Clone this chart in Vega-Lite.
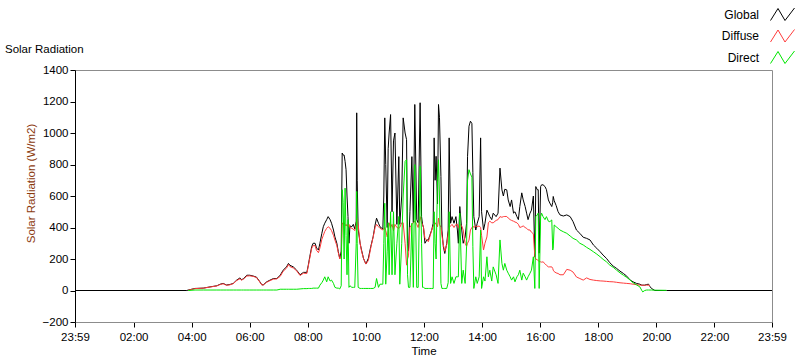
{
  "$schema": "https://vega.github.io/schema/vega-lite/v6.json",
  "width": 697,
  "height": 252,
  "autosize": {"type": "none"},
  "padding": {"left": 75, "top": 70, "right": 28, "bottom": 39},
  "background": "white",
  "config": {
    "font": "Liberation Sans",
    "view": {"stroke": "#8c8c8c"},
    "axis": {"labelFont": "Liberation Sans", "labelFontSize": 11.5, "labelColor": "#000", "titleFont": "Liberation Sans", "titleFontSize": 11.5, "titleFontWeight": "normal", "titleColor": "#000", "grid": false, "tickColor": "#000"}
  },
  "title": {"text": "Solar Radiation", "anchor": "start", "frame": "group", "dx": -70, "dy": 62, "offset": 7, "fontSize": 11.5, "fontWeight": "normal", "font": "Liberation Sans", "color": "#000"},
  "data": {
    "format": {"parse": {"t": "date:'%H:%M'"}},
    "values": [
      {"t":"00:00","Global":0},
      {"t":"03:50","Global":0},
      {"t":"03:53","Global":3,"Diffuse":2,"Direct":0},
      {"t":"04:07","Global":13,"Diffuse":12,"Direct":3},
      {"t":"04:24","Global":15,"Diffuse":15,"Direct":3},
      {"t":"04:38","Global":23,"Diffuse":22,"Direct":3},
      {"t":"04:52","Global":30,"Diffuse":29,"Direct":3},
      {"t":"04:59","Global":40,"Diffuse":38,"Direct":3},
      {"t":"05:05","Global":45,"Diffuse":43,"Direct":3},
      {"t":"05:12","Global":35,"Diffuse":33,"Direct":3},
      {"t":"05:19","Global":38,"Diffuse":36,"Direct":3},
      {"t":"05:26","Global":45,"Diffuse":44,"Direct":3},
      {"t":"05:33","Global":66,"Diffuse":63,"Direct":3},
      {"t":"05:40","Global":80,"Diffuse":75,"Direct":3},
      {"t":"05:43","Global":68,"Diffuse":66,"Direct":3},
      {"t":"05:47","Global":75,"Diffuse":72,"Direct":3},
      {"t":"05:54","Global":97,"Diffuse":92,"Direct":3},
      {"t":"06:00","Global":97,"Diffuse":93,"Direct":3},
      {"t":"06:07","Global":92,"Diffuse":90,"Direct":3},
      {"t":"06:14","Global":85,"Diffuse":82,"Direct":3},
      {"t":"06:21","Global":55,"Diffuse":53,"Direct":3},
      {"t":"06:25","Global":36,"Diffuse":35,"Direct":3},
      {"t":"06:28","Global":36,"Diffuse":35,"Direct":3},
      {"t":"06:35","Global":55,"Diffuse":52,"Direct":3},
      {"t":"06:42","Global":66,"Diffuse":63,"Direct":3},
      {"t":"06:49","Global":76,"Diffuse":72,"Direct":3},
      {"t":"06:56","Global":76,"Diffuse":74,"Direct":3},
      {"t":"07:03","Global":97,"Diffuse":90,"Direct":8},
      {"t":"07:09","Global":129,"Diffuse":122,"Direct":8},
      {"t":"07:16","Global":150,"Diffuse":142,"Direct":8},
      {"t":"07:20","Global":172,"Diffuse":165,"Direct":8},
      {"t":"07:23","Global":160,"Diffuse":152,"Direct":8},
      {"t":"07:30","Global":150,"Diffuse":143,"Direct":8},
      {"t":"07:37","Global":129,"Diffuse":125,"Direct":8},
      {"t":"07:44","Global":100,"Diffuse":95,"Direct":10},
      {"t":"07:51","Global":115,"Diffuse":110,"Direct":12},
      {"t":"07:58","Global":115,"Diffuse":108,"Direct":12},
      {"t":"08:01","Global":161,"Diffuse":155,"Direct":13},
      {"t":"08:04","Global":214,"Diffuse":205,"Direct":13},
      {"t":"08:08","Global":278,"Diffuse":268,"Direct":13},
      {"t":"08:11","Global":300,"Diffuse":285,"Direct":15},
      {"t":"08:15","Global":300,"Diffuse":285,"Direct":15},
      {"t":"08:18","Global":270,"Diffuse":255,"Direct":15},
      {"t":"08:22","Global":257,"Diffuse":240,"Direct":15},
      {"t":"08:25","Global":300,"Diffuse":270,"Direct":34},
      {"t":"08:29","Global":363,"Diffuse":325,"Direct":50},
      {"t":"08:32","Global":405,"Diffuse":350,"Direct":66},
      {"t":"08:35","Global":427,"Diffuse":375,"Direct":87},
      {"t":"08:39","Global":450,"Diffuse":395,"Direct":55},
      {"t":"08:42","Global":469,"Diffuse":405,"Direct":87},
      {"t":"08:46","Global":450,"Diffuse":395,"Direct":60},
      {"t":"08:49","Global":427,"Diffuse":380,"Direct":66},
      {"t":"08:53","Global":384,"Diffuse":350,"Direct":45},
      {"t":"08:56","Global":340,"Diffuse":320,"Direct":20},
      {"t":"09:00","Global":300,"Diffuse":285,"Direct":15},
      {"t":"09:03","Global":246,"Diffuse":240,"Direct":15},
      {"t":"09:06","Global":204,"Diffuse":200,"Direct":10},
      {"t":"09:09","Global":250,"Diffuse":215,"Direct":30},
      {"t":"09:11","Global":873,"Diffuse":430,"Direct":640},
      {"t":"09:13","Global":860,"Diffuse":420,"Direct":560},
      {"t":"09:15","Global":860,"Diffuse":430,"Direct":200},
      {"t":"09:17","Global":820,"Diffuse":420,"Direct":650},
      {"t":"09:19","Global":767,"Diffuse":410,"Direct":350},
      {"t":"09:21","Global":600,"Diffuse":420,"Direct":100},
      {"t":"09:23","Global":470,"Diffuse":405,"Direct":450},
      {"t":"09:25","Global":300,"Diffuse":420,"Direct":20},
      {"t":"09:27","Global":410,"Diffuse":400,"Direct":30},
      {"t":"09:31","Global":405,"Diffuse":395,"Direct":20},
      {"t":"09:34","Global":420,"Diffuse":390,"Direct":20},
      {"t":"09:37","Global":390,"Diffuse":380,"Direct":20},
      {"t":"09:40","Global":440,"Diffuse":420,"Direct":300},
      {"t":"09:41","Global":1128,"Diffuse":459,"Direct":629},
      {"t":"09:42","Global":700,"Diffuse":440,"Direct":300},
      {"t":"09:44","Global":390,"Diffuse":420,"Direct":20},
      {"t":"09:48","Global":300,"Diffuse":300,"Direct":13},
      {"t":"09:51","Global":257,"Diffuse":250,"Direct":13},
      {"t":"09:55","Global":204,"Diffuse":204,"Direct":13},
      {"t":"10:00","Global":168,"Diffuse":168,"Direct":13},
      {"t":"10:05","Global":204,"Diffuse":190,"Direct":13},
      {"t":"10:10","Global":278,"Diffuse":270,"Direct":13},
      {"t":"10:15","Global":342,"Diffuse":340,"Direct":13},
      {"t":"10:19","Global":416,"Diffuse":400,"Direct":20},
      {"t":"10:22","Global":459,"Diffuse":420,"Direct":76},
      {"t":"10:26","Global":427,"Diffuse":405,"Direct":20},
      {"t":"10:29","Global":405,"Diffuse":395,"Direct":40},
      {"t":"10:35","Global":390,"Diffuse":385,"Direct":40},
      {"t":"10:37","Global":600,"Diffuse":390,"Direct":300},
      {"t":"10:39","Global":1096,"Diffuse":400,"Direct":554},
      {"t":"10:41","Global":800,"Diffuse":380,"Direct":40},
      {"t":"10:44","Global":400,"Diffuse":340,"Direct":250},
      {"t":"10:46","Global":900,"Diffuse":360,"Direct":430},
      {"t":"10:48","Global":1000,"Diffuse":430,"Direct":100},
      {"t":"10:51","Global":1117,"Diffuse":400,"Direct":500},
      {"t":"10:54","Global":500,"Diffuse":420,"Direct":100},
      {"t":"10:57","Global":950,"Diffuse":380,"Direct":500},
      {"t":"11:00","Global":1000,"Diffuse":420,"Direct":100},
      {"t":"11:04","Global":420,"Diffuse":400,"Direct":300},
      {"t":"11:08","Global":850,"Diffuse":395,"Direct":470},
      {"t":"11:10","Global":420,"Diffuse":400,"Direct":40},
      {"t":"11:14","Global":600,"Diffuse":430,"Direct":300},
      {"t":"11:17","Global":1096,"Diffuse":430,"Direct":600},
      {"t":"11:21","Global":1000,"Diffuse":300,"Direct":820},
      {"t":"11:24","Global":958,"Diffuse":161,"Direct":830},
      {"t":"11:26","Global":300,"Diffuse":200,"Direct":100},
      {"t":"11:28","Global":250,"Diffuse":220,"Direct":20},
      {"t":"11:31","Global":500,"Diffuse":400,"Direct":20},
      {"t":"11:35","Global":850,"Diffuse":420,"Direct":427},
      {"t":"11:38","Global":430,"Diffuse":430,"Direct":20},
      {"t":"11:41","Global":1181,"Diffuse":440,"Direct":799},
      {"t":"11:45","Global":450,"Diffuse":420,"Direct":20},
      {"t":"11:48","Global":430,"Diffuse":400,"Direct":20},
      {"t":"11:52","Global":1192,"Diffuse":469,"Direct":788},
      {"t":"11:55","Global":469,"Diffuse":430,"Direct":300},
      {"t":"11:57","Global":420,"Diffuse":420,"Direct":20},
      {"t":"11:59","Global":400,"Diffuse":400,"Direct":20},
      {"t":"12:02","Global":300,"Diffuse":330,"Direct":13},
      {"t":"12:06","Global":321,"Diffuse":321,"Direct":13},
      {"t":"12:09","Global":321,"Diffuse":310,"Direct":13},
      {"t":"12:12","Global":350,"Diffuse":340,"Direct":13},
      {"t":"12:16","Global":384,"Diffuse":384,"Direct":13},
      {"t":"12:19","Global":427,"Diffuse":410,"Direct":13},
      {"t":"12:21","Global":969,"Diffuse":420,"Direct":500},
      {"t":"12:23","Global":700,"Diffuse":430,"Direct":300},
      {"t":"12:25","Global":852,"Diffuse":420,"Direct":200},
      {"t":"12:28","Global":550,"Diffuse":405,"Direct":700},
      {"t":"12:30","Global":1181,"Diffuse":460,"Direct":830},
      {"t":"12:32","Global":1100,"Diffuse":420,"Direct":600},
      {"t":"12:35","Global":724,"Diffuse":400,"Direct":45},
      {"t":"12:37","Global":384,"Diffuse":350,"Direct":13},
      {"t":"12:40","Global":278,"Diffuse":290,"Direct":13},
      {"t":"12:43","Global":235,"Diffuse":250,"Direct":13},
      {"t":"12:47","Global":300,"Diffuse":290,"Direct":13},
      {"t":"12:50","Global":384,"Diffuse":360,"Direct":50},
      {"t":"12:52","Global":969,"Diffuse":400,"Direct":500},
      {"t":"12:55","Global":427,"Diffuse":410,"Direct":45},
      {"t":"12:58","Global":469,"Diffuse":420,"Direct":87},
      {"t":"13:02","Global":427,"Diffuse":400,"Direct":45},
      {"t":"13:06","Global":469,"Diffuse":420,"Direct":87},
      {"t":"13:09","Global":384,"Diffuse":420,"Direct":87},
      {"t":"13:11","Global":300,"Diffuse":400,"Direct":87},
      {"t":"13:14","Global":533,"Diffuse":420,"Direct":491},
      {"t":"13:18","Global":384,"Diffuse":410,"Direct":45},
      {"t":"13:21","Global":300,"Diffuse":384,"Direct":129},
      {"t":"13:25","Global":340,"Diffuse":300,"Direct":45},
      {"t":"13:28","Global":427,"Diffuse":280,"Direct":278},
      {"t":"13:30","Global":852,"Diffuse":300,"Direct":700},
      {"t":"13:33","Global":1043,"Diffuse":320,"Direct":767},
      {"t":"13:36","Global":1075,"Diffuse":384,"Direct":740},
      {"t":"13:39","Global":1060,"Diffuse":400,"Direct":720},
      {"t":"13:41","Global":750,"Diffuse":410,"Direct":278},
      {"t":"13:43","Global":469,"Diffuse":400,"Direct":13},
      {"t":"13:47","Global":384,"Diffuse":410,"Direct":87},
      {"t":"13:50","Global":427,"Diffuse":405,"Direct":45},
      {"t":"13:54","Global":469,"Diffuse":410,"Direct":87},
      {"t":"13:57","Global":969,"Diffuse":400,"Direct":384},
      {"t":"13:59","Global":500,"Diffuse":350,"Direct":13},
      {"t":"14:03","Global":384,"Diffuse":257,"Direct":87},
      {"t":"14:06","Global":427,"Diffuse":300,"Direct":60},
      {"t":"14:10","Global":510,"Diffuse":340,"Direct":214},
      {"t":"14:13","Global":491,"Diffuse":430,"Direct":87},
      {"t":"14:16","Global":469,"Diffuse":440,"Direct":129},
      {"t":"14:20","Global":450,"Diffuse":430,"Direct":60},
      {"t":"14:23","Global":491,"Diffuse":430,"Direct":150},
      {"t":"14:29","Global":469,"Diffuse":445,"Direct":100},
      {"t":"14:33","Global":491,"Diffuse":450,"Direct":45},
      {"t":"14:37","Global":777,"Diffuse":469,"Direct":321},
      {"t":"14:41","Global":639,"Diffuse":465,"Direct":172},
      {"t":"14:44","Global":600,"Diffuse":469,"Direct":129},
      {"t":"14:47","Global":643,"Diffuse":470,"Direct":172},
      {"t":"14:51","Global":639,"Diffuse":470,"Direct":129},
      {"t":"14:54","Global":575,"Diffuse":460,"Direct":110},
      {"t":"14:58","Global":533,"Diffuse":450,"Direct":87},
      {"t":"15:01","Global":575,"Diffuse":445,"Direct":66},
      {"t":"15:05","Global":491,"Diffuse":440,"Direct":87},
      {"t":"15:08","Global":500,"Diffuse":435,"Direct":55},
      {"t":"15:12","Global":469,"Diffuse":430,"Direct":87},
      {"t":"15:15","Global":450,"Diffuse":420,"Direct":100},
      {"t":"15:18","Global":533,"Diffuse":400,"Direct":129},
      {"t":"15:22","Global":620,"Diffuse":405,"Direct":66},
      {"t":"15:25","Global":575,"Diffuse":410,"Direct":110},
      {"t":"15:29","Global":533,"Diffuse":400,"Direct":87},
      {"t":"15:32","Global":491,"Diffuse":395,"Direct":66},
      {"t":"15:35","Global":450,"Diffuse":385,"Direct":87},
      {"t":"15:39","Global":491,"Diffuse":384,"Direct":110},
      {"t":"15:42","Global":510,"Diffuse":370,"Direct":129},
      {"t":"15:46","Global":600,"Diffuse":360,"Direct":214},
      {"t":"15:49","Global":214,"Diffuse":214,"Direct":13},
      {"t":"15:51","Global":660,"Diffuse":200,"Direct":469},
      {"t":"15:54","Global":640,"Diffuse":195,"Direct":480},
      {"t":"15:56","Global":640,"Diffuse":190,"Direct":491},
      {"t":"15:58","Global":237,"Diffuse":185,"Direct":13},
      {"t":"16:01","Global":660,"Diffuse":182,"Direct":469},
      {"t":"16:03","Global":671,"Diffuse":180,"Direct":491},
      {"t":"16:06","Global":671,"Diffuse":182,"Direct":469},
      {"t":"16:10","Global":660,"Diffuse":170,"Direct":450},
      {"t":"16:13","Global":640,"Diffuse":160,"Direct":469},
      {"t":"16:17","Global":575,"Diffuse":150,"Direct":440},
      {"t":"16:20","Global":555,"Diffuse":150,"Direct":437},
      {"t":"16:24","Global":533,"Diffuse":150,"Direct":448},
      {"t":"16:26","Global":560,"Diffuse":140,"Direct":257},
      {"t":"16:27","Global":597,"Diffuse":129,"Direct":268},
      {"t":"16:29","Global":570,"Diffuse":120,"Direct":416},
      {"t":"16:33","Global":540,"Diffuse":112,"Direct":405},
      {"t":"16:37","Global":501,"Diffuse":108,"Direct":395},
      {"t":"16:41","Global":480,"Diffuse":100,"Direct":384},
      {"t":"16:48","Global":473,"Diffuse":100,"Direct":373},
      {"t":"16:55","Global":480,"Diffuse":134,"Direct":363},
      {"t":"17:02","Global":469,"Diffuse":129,"Direct":346},
      {"t":"17:08","Global":437,"Diffuse":117,"Direct":331},
      {"t":"17:15","Global":384,"Diffuse":86,"Direct":321},
      {"t":"17:22","Global":363,"Diffuse":76,"Direct":300},
      {"t":"17:29","Global":338,"Diffuse":66,"Direct":289},
      {"t":"17:36","Global":331,"Diffuse":80,"Direct":274},
      {"t":"17:43","Global":321,"Diffuse":70,"Direct":261},
      {"t":"17:50","Global":289,"Diffuse":66,"Direct":246},
      {"t":"17:57","Global":268,"Diffuse":63,"Direct":231},
      {"t":"18:04","Global":246,"Diffuse":61,"Direct":214},
      {"t":"18:10","Global":225,"Diffuse":60,"Direct":198},
      {"t":"18:17","Global":204,"Diffuse":58,"Direct":182},
      {"t":"18:24","Global":176,"Diffuse":56,"Direct":161},
      {"t":"18:31","Global":155,"Diffuse":55,"Direct":147},
      {"t":"18:38","Global":140,"Diffuse":52,"Direct":129},
      {"t":"18:45","Global":123,"Diffuse":49,"Direct":112},
      {"t":"18:52","Global":108,"Diffuse":47,"Direct":97},
      {"t":"18:59","Global":91,"Diffuse":45,"Direct":83},
      {"t":"19:06","Global":66,"Diffuse":43,"Direct":66},
      {"t":"19:12","Global":55,"Diffuse":40,"Direct":49},
      {"t":"19:19","Global":45,"Diffuse":37,"Direct":36},
      {"t":"19:26","Global":40,"Diffuse":34,"Direct":23},
      {"t":"19:30","Global":34,"Diffuse":34,"Direct":0},
      {"t":"19:32","Global":34,"Diffuse":33,"Direct":-9},
      {"t":"19:36","Global":34,"Diffuse":33,"Direct":0},
      {"t":"19:40","Global":38,"Diffuse":34,"Direct":3},
      {"t":"19:44","Global":40,"Diffuse":34,"Direct":3},
      {"t":"19:47","Global":25,"Diffuse":30,"Direct":3},
      {"t":"19:50","Global":13,"Direct":3},
      {"t":"19:57","Global":0,"Direct":2},
      {"t":"20:21","Global":0,"Direct":1},
      {"t":"23:59","Global":0}
    ]
  },
  "layer": [
    {
      "mark": {"type": "line", "strokeWidth": 1},
      "encoding": {
        "x": {
          "field": "t", "type": "temporal",
          "scale": {"domain": [{"year": 1899, "month": 12, "date": 31, "hours": 23, "minutes": 59}, {"year": 1900, "month": 1, "date": 1, "hours": 23, "minutes": 59}]},
          "axis": {
            "values": [
              {"year":1899,"month":12,"date":31,"hours":23,"minutes":59},
              {"year":1900,"month":1,"date":1,"hours":0,"minutes":15},{"year":1900,"month":1,"date":1,"hours":0,"minutes":30},{"year":1900,"month":1,"date":1,"hours":0,"minutes":45},
              {"year":1900,"month":1,"date":1,"hours":1,"minutes":0},{"year":1900,"month":1,"date":1,"hours":1,"minutes":15},{"year":1900,"month":1,"date":1,"hours":1,"minutes":30},{"year":1900,"month":1,"date":1,"hours":1,"minutes":45},
              {"year":1900,"month":1,"date":1,"hours":2,"minutes":0},{"year":1900,"month":1,"date":1,"hours":2,"minutes":15},{"year":1900,"month":1,"date":1,"hours":2,"minutes":30},{"year":1900,"month":1,"date":1,"hours":2,"minutes":45},
              {"year":1900,"month":1,"date":1,"hours":3,"minutes":0},{"year":1900,"month":1,"date":1,"hours":3,"minutes":15},{"year":1900,"month":1,"date":1,"hours":3,"minutes":30},{"year":1900,"month":1,"date":1,"hours":3,"minutes":45},
              {"year":1900,"month":1,"date":1,"hours":4,"minutes":0},{"year":1900,"month":1,"date":1,"hours":4,"minutes":15},{"year":1900,"month":1,"date":1,"hours":4,"minutes":30},{"year":1900,"month":1,"date":1,"hours":4,"minutes":45},
              {"year":1900,"month":1,"date":1,"hours":5,"minutes":0},{"year":1900,"month":1,"date":1,"hours":5,"minutes":15},{"year":1900,"month":1,"date":1,"hours":5,"minutes":30},{"year":1900,"month":1,"date":1,"hours":5,"minutes":45},
              {"year":1900,"month":1,"date":1,"hours":6,"minutes":0},{"year":1900,"month":1,"date":1,"hours":6,"minutes":15},{"year":1900,"month":1,"date":1,"hours":6,"minutes":30},{"year":1900,"month":1,"date":1,"hours":6,"minutes":45},
              {"year":1900,"month":1,"date":1,"hours":7,"minutes":0},{"year":1900,"month":1,"date":1,"hours":7,"minutes":15},{"year":1900,"month":1,"date":1,"hours":7,"minutes":30},{"year":1900,"month":1,"date":1,"hours":7,"minutes":45},
              {"year":1900,"month":1,"date":1,"hours":8,"minutes":0},{"year":1900,"month":1,"date":1,"hours":8,"minutes":15},{"year":1900,"month":1,"date":1,"hours":8,"minutes":30},{"year":1900,"month":1,"date":1,"hours":8,"minutes":45},
              {"year":1900,"month":1,"date":1,"hours":9,"minutes":0},{"year":1900,"month":1,"date":1,"hours":9,"minutes":15},{"year":1900,"month":1,"date":1,"hours":9,"minutes":30},{"year":1900,"month":1,"date":1,"hours":9,"minutes":45},
              {"year":1900,"month":1,"date":1,"hours":10,"minutes":0},{"year":1900,"month":1,"date":1,"hours":10,"minutes":15},{"year":1900,"month":1,"date":1,"hours":10,"minutes":30},{"year":1900,"month":1,"date":1,"hours":10,"minutes":45},
              {"year":1900,"month":1,"date":1,"hours":11,"minutes":0},{"year":1900,"month":1,"date":1,"hours":11,"minutes":15},{"year":1900,"month":1,"date":1,"hours":11,"minutes":30},{"year":1900,"month":1,"date":1,"hours":11,"minutes":45},
              {"year":1900,"month":1,"date":1,"hours":12,"minutes":0},{"year":1900,"month":1,"date":1,"hours":12,"minutes":15},{"year":1900,"month":1,"date":1,"hours":12,"minutes":30},{"year":1900,"month":1,"date":1,"hours":12,"minutes":45},
              {"year":1900,"month":1,"date":1,"hours":13,"minutes":0},{"year":1900,"month":1,"date":1,"hours":13,"minutes":15},{"year":1900,"month":1,"date":1,"hours":13,"minutes":30},{"year":1900,"month":1,"date":1,"hours":13,"minutes":45},
              {"year":1900,"month":1,"date":1,"hours":14,"minutes":0},{"year":1900,"month":1,"date":1,"hours":14,"minutes":15},{"year":1900,"month":1,"date":1,"hours":14,"minutes":30},{"year":1900,"month":1,"date":1,"hours":14,"minutes":45},
              {"year":1900,"month":1,"date":1,"hours":15,"minutes":0},{"year":1900,"month":1,"date":1,"hours":15,"minutes":15},{"year":1900,"month":1,"date":1,"hours":15,"minutes":30},{"year":1900,"month":1,"date":1,"hours":15,"minutes":45},
              {"year":1900,"month":1,"date":1,"hours":16,"minutes":0},{"year":1900,"month":1,"date":1,"hours":16,"minutes":15},{"year":1900,"month":1,"date":1,"hours":16,"minutes":30},{"year":1900,"month":1,"date":1,"hours":16,"minutes":45},
              {"year":1900,"month":1,"date":1,"hours":17,"minutes":0},{"year":1900,"month":1,"date":1,"hours":17,"minutes":15},{"year":1900,"month":1,"date":1,"hours":17,"minutes":30},{"year":1900,"month":1,"date":1,"hours":17,"minutes":45},
              {"year":1900,"month":1,"date":1,"hours":18,"minutes":0},{"year":1900,"month":1,"date":1,"hours":18,"minutes":15},{"year":1900,"month":1,"date":1,"hours":18,"minutes":30},{"year":1900,"month":1,"date":1,"hours":18,"minutes":45},
              {"year":1900,"month":1,"date":1,"hours":19,"minutes":0},{"year":1900,"month":1,"date":1,"hours":19,"minutes":15},{"year":1900,"month":1,"date":1,"hours":19,"minutes":30},{"year":1900,"month":1,"date":1,"hours":19,"minutes":45},
              {"year":1900,"month":1,"date":1,"hours":20,"minutes":0},{"year":1900,"month":1,"date":1,"hours":20,"minutes":15},{"year":1900,"month":1,"date":1,"hours":20,"minutes":30},{"year":1900,"month":1,"date":1,"hours":20,"minutes":45},
              {"year":1900,"month":1,"date":1,"hours":21,"minutes":0},{"year":1900,"month":1,"date":1,"hours":21,"minutes":15},{"year":1900,"month":1,"date":1,"hours":21,"minutes":30},{"year":1900,"month":1,"date":1,"hours":21,"minutes":45},
              {"year":1900,"month":1,"date":1,"hours":22,"minutes":0},{"year":1900,"month":1,"date":1,"hours":22,"minutes":15},{"year":1900,"month":1,"date":1,"hours":22,"minutes":30},{"year":1900,"month":1,"date":1,"hours":22,"minutes":45},
              {"year":1900,"month":1,"date":1,"hours":23,"minutes":0},{"year":1900,"month":1,"date":1,"hours":23,"minutes":15},{"year":1900,"month":1,"date":1,"hours":23,"minutes":30},{"year":1900,"month":1,"date":1,"hours":23,"minutes":45},
              {"year":1900,"month":1,"date":1,"hours":23,"minutes":59}
            ],
            "labelExpr": "minutes(datum.value) == 59 || (minutes(datum.value) == 0 && hours(datum.value) % 2 == 0) ? timeFormat(datum.value, '%H:%M') : ''",
            "labelFlush": false, "labelOverlap": false,
            "tickSize": {"condition": {"test": "minutes(datum.value) == 59 || (minutes(datum.value) == 0 && hours(datum.value) % 2 == 0)", "value": 5}, "value": 3},
            "labelPadding": 4, "domainColor": "#8c8c8c",
            "title": "Time", "titlePadding": 3
          }
        },
        "y": {
          "field": "Global", "type": "quantitative",
          "scale": {"domain": [-200, 1400], "nice": false, "zero": false},
          "axis": {
            "values": [-200, 0, 200, 400, 600, 800, 1000, 1200, 1400], "format": "d",
            "title": "Solar Radiation (W/m2)", "titleColor": "#8b3a0e", "titleX": -44, "titleY": 113, "titleBaseline": "middle",
            "domainColor": "#000", "tickSize": 5, "labelPadding": 2
          }
        },
        "color": {
          "datum": "Global", "type": "nominal",
          "scale": {"domain": ["Global", "Diffuse", "Direct"], "range": ["#000000", "#ff3b3b", "#00e600"]},
          "legend": {
            "orient": "none", "legendX": 693, "legendY": -70, "title": null,
            "labelFont": "Liberation Sans", "labelFontSize": 12, "labelColor": "#000",
            "labelAlign": "right", "labelOffset": -34,
            "symbolType": "M-1.2,0.6L-0.45,-0.6L0.25,0.6L1.2,-0.65", "symbolSize": 400, "symbolStrokeWidth": 1,
            "rowPadding": 2.5, "padding": 4
          }
        }
      }
    },
    {
      "mark": {"type": "line", "strokeWidth": 1},
      "encoding": {
        "x": {"field": "t", "type": "temporal"},
        "y": {
          "field": "Diffuse", "type": "quantitative",
          "axis": {
            "values": [-200, 0, 200, 400, 600, 800, 1000, 1200, 1400], "format": "d",
            "title": "Solar Radiation (W/m2)", "titleColor": "#8b3a0e", "titleX": -44, "titleY": 113, "titleBaseline": "middle",
            "domainColor": "#000", "tickSize": 5, "labelPadding": 2
          }
        },
        "color": {"datum": "Diffuse", "type": "nominal"}
      }
    },
    {
      "mark": {"type": "line", "strokeWidth": 1},
      "encoding": {
        "x": {"field": "t", "type": "temporal"},
        "y": {
          "field": "Direct", "type": "quantitative",
          "axis": {
            "values": [-200, 0, 200, 400, 600, 800, 1000, 1200, 1400], "format": "d",
            "title": "Solar Radiation (W/m2)", "titleColor": "#8b3a0e", "titleX": -44, "titleY": 113, "titleBaseline": "middle",
            "domainColor": "#000", "tickSize": 5, "labelPadding": 2
          }
        },
        "color": {"datum": "Direct", "type": "nominal"}
      }
    }
  ]
}
